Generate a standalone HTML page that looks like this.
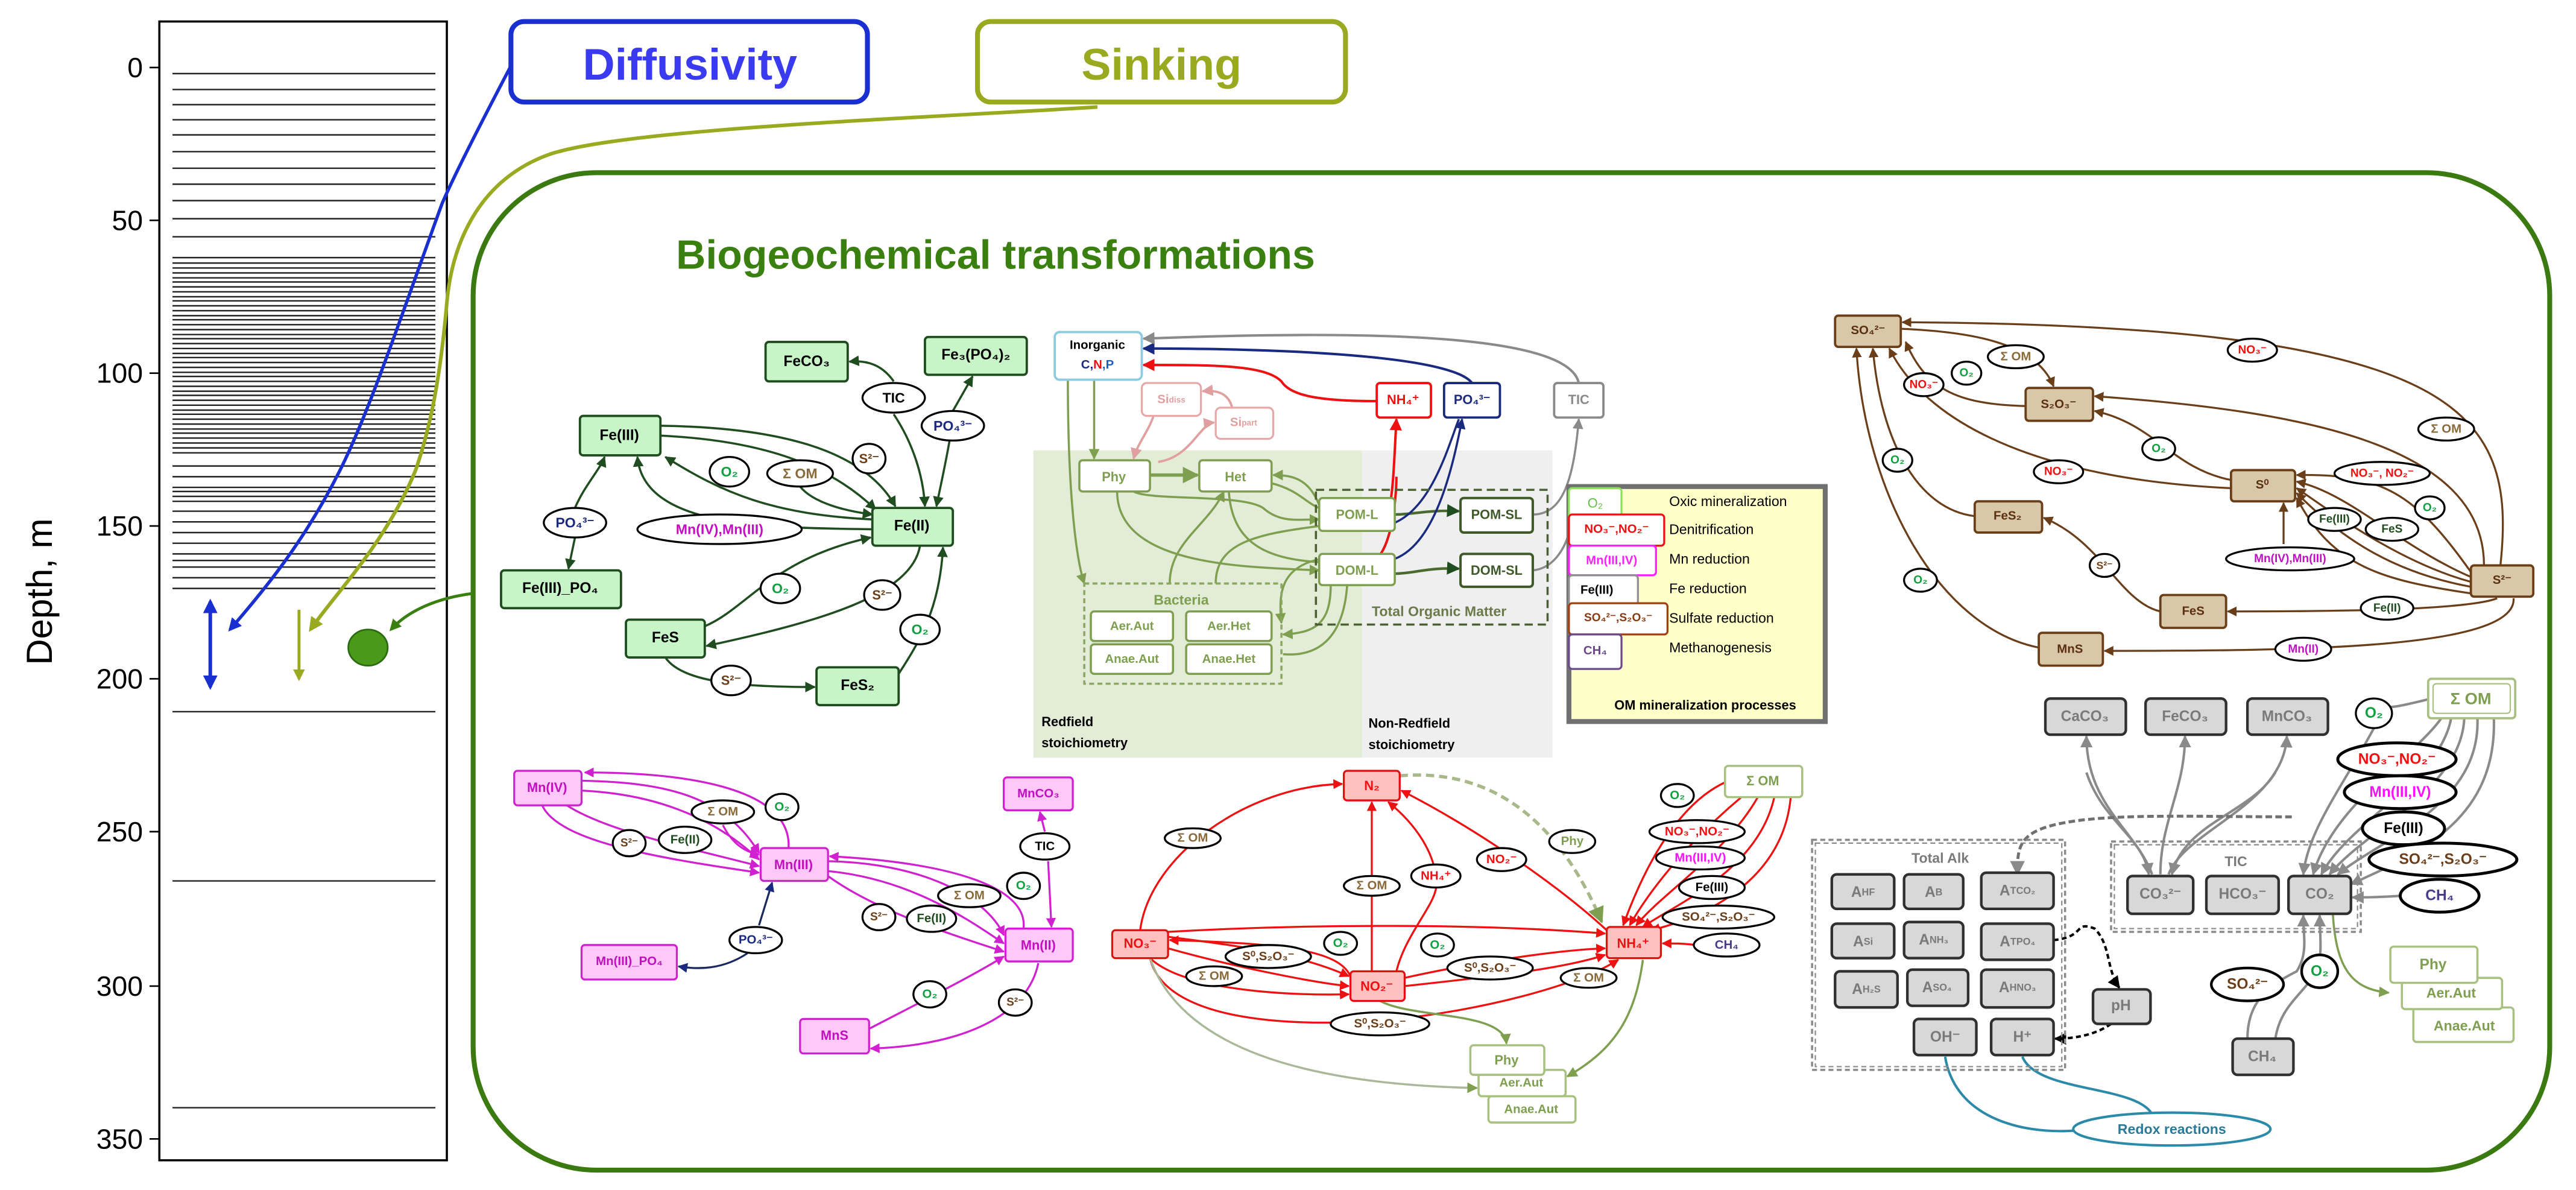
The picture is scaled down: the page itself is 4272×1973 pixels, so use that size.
<!DOCTYPE html>
<html><head><meta charset="utf-8"><style>
html,body{margin:0;padding:0;background:#fff}
svg{display:block}
text{font-family:"Liberation Sans",sans-serif;font-weight:bold;text-anchor:middle;dominant-baseline:central}
.e{fill:#fff;stroke:#000;stroke-width:1.2}
.fe{fill:#c8f5c8;stroke:#1f4d1f;stroke-width:1.4}
.mn{fill:#ffc8f8;stroke:#d020d0;stroke-width:1.2}
.n{fill:#ffc0c0;stroke:#e01010;stroke-width:1.2}
.s{fill:#d8c8a8;stroke:#6b3e1a;stroke-width:1.4}
.g{fill:#d8d8d8;stroke:#303030;stroke-width:1.6}
.om{fill:#fff;stroke:#7f9f50;stroke-width:1.3}
.lfe path,.lfe{fill:none;stroke:#1f4d1f;stroke-width:1.3}
.lmn path{fill:none;stroke:#d020d0;stroke-width:1.2}
.lre path{fill:none;stroke:#ee1111;stroke-width:1.2}
.lol path{fill:none;stroke:#7f9f50;stroke-width:1.3}
.lbr path{fill:none;stroke:#6b3e1a;stroke-width:1.2}
.lgr path{fill:none;stroke:#8a8a8a;stroke-width:1.5}
</style></head><body>
<svg width="4272" height="1973" viewBox="0 0 1568 724" xmlns="http://www.w3.org/2000/svg">
<defs>
<marker id="afe" viewBox="0 0 10 10" refX="9" refY="5" markerWidth="5" markerHeight="5" orient="auto"><path d="M0,0L10,5L0,10z" fill="#1f4d1f"/></marker>
<marker id="amn" viewBox="0 0 10 10" refX="9" refY="5" markerWidth="5" markerHeight="5" orient="auto"><path d="M0,0L10,5L0,10z" fill="#d020d0"/></marker>
<marker id="are" viewBox="0 0 10 10" refX="9" refY="5" markerWidth="5" markerHeight="5" orient="auto"><path d="M0,0L10,5L0,10z" fill="#ee1111"/></marker>
<marker id="aol" viewBox="0 0 10 10" refX="9" refY="5" markerWidth="5" markerHeight="5" orient="auto"><path d="M0,0L10,5L0,10z" fill="#7f9f50"/></marker>
<marker id="abr" viewBox="0 0 10 10" refX="9" refY="5" markerWidth="5" markerHeight="5" orient="auto"><path d="M0,0L10,5L0,10z" fill="#6b3e1a"/></marker>
<marker id="agr" viewBox="0 0 10 10" refX="9" refY="5" markerWidth="5" markerHeight="5" orient="auto"><path d="M0,0L10,5L0,10z" fill="#8a8a8a"/></marker>
<marker id="abk" viewBox="0 0 10 10" refX="9" refY="5" markerWidth="5" markerHeight="5" orient="auto"><path d="M0,0L10,5L0,10z" fill="#000"/></marker>
<marker id="anv" viewBox="0 0 10 10" refX="9" refY="5" markerWidth="5" markerHeight="5" orient="auto"><path d="M0,0L10,5L0,10z" fill="#1a2a80"/></marker>
<marker id="apk" viewBox="0 0 10 10" refX="9" refY="5" markerWidth="5" markerHeight="5" orient="auto"><path d="M0,0L10,5L0,10z" fill="#e0a0a0"/></marker>
<marker id="abl" viewBox="0 0 10 10" refX="8" refY="5" markerWidth="4" markerHeight="4" orient="auto-start-reverse"><path d="M0,0L10,5L0,10z" fill="#1a2fd0"/></marker>
<marker id="aoy" viewBox="0 0 10 10" refX="8" refY="5" markerWidth="4" markerHeight="4" orient="auto"><path d="M0,0L10,5L0,10z" fill="#9aaa20"/></marker>
<marker id="adg" viewBox="0 0 10 10" refX="8" refY="5" markerWidth="4" markerHeight="4" orient="auto"><path d="M0,0L10,5L0,10z" fill="#3a8010"/></marker>
</defs>

<!-- depth column -->
<rect x="97" y="13" width="175" height="693" fill="#fff" stroke="#000" stroke-width="1.3"/>
<g stroke="#000" stroke-width="1">
<line x1="91" y1="41" x2="97" y2="41"/><line x1="91" y1="134" x2="97" y2="134"/><line x1="91" y1="227" x2="97" y2="227"/><line x1="91" y1="320" x2="97" y2="320"/><line x1="91" y1="413" x2="97" y2="413"/><line x1="91" y1="506" x2="97" y2="506"/><line x1="91" y1="600" x2="97" y2="600"/><line x1="91" y1="693" x2="97" y2="693"/>
</g>
<g style="font-weight:normal;font-size:17px;text-anchor:end" >
<text x="87" y="41" style="font-weight:normal;text-anchor:end">0</text>
<text x="87" y="134" style="font-weight:normal;text-anchor:end">50</text>
<text x="87" y="227" style="font-weight:normal;text-anchor:end">100</text>
<text x="87" y="320" style="font-weight:normal;text-anchor:end">150</text>
<text x="87" y="413" style="font-weight:normal;text-anchor:end">200</text>
<text x="87" y="506" style="font-weight:normal;text-anchor:end">250</text>
<text x="87" y="600" style="font-weight:normal;text-anchor:end">300</text>
<text x="87" y="693" style="font-weight:normal;text-anchor:end">350</text>
</g>
<text x="24" y="360" transform="rotate(-90 24 360)" style="font-weight:normal;font-size:22px">Depth, m</text>
<g stroke="#222" stroke-width="0.9">
<path d="M105,44.7H265M105,54.4H265M105,63.6H265M105,72.8H265M105,82H265M105,92.2H265M105,102.3H265M105,112H265M105,122H265M105,133H265M105,144H265M105,156.7H265M105,160H265M105,163H265M105,166H265M105,169H265M105,171.5H265M105,174.5H265M105,177.5H265M105,180.5H265M105,183H265M105,186H265M105,189H265M105,192H265M105,194.5H265M105,197.5H265M105,200.5H265M105,203.5H265M105,206H265M105,209H265M105,212H265M105,215H265M105,217.5H265M105,220.5H265M105,223.5H265M105,226.5H265M105,229H265M105,232H265M105,235H265M105,238H265M105,240.5H265M105,243.5H265M105,246.5H265M105,249.5H265M105,252H265M105,255H265M105,258H265M105,261H265M105,263.5H265M105,266.5H265M105,269.5H265M105,272.5H265M105,275.5H265M105,283.5H265M105,290H265M105,296.5H265M105,299H265M105,302H265M105,305H265M105,311H265M105,317.5H265M105,324H265M105,330.5H265M105,337H265M105,341H265M105,345H265M105,351.5H265M105,358H265M105,433H265M105,536H265M105,674H265"/>
</g>
<!-- arrows in column -->
<line x1="128" y1="366" x2="128" y2="418" stroke="#1a2fd0" stroke-width="2.2" marker-start="url(#abl)" marker-end="url(#abl)"/>
<line x1="182" y1="371" x2="182" y2="413" stroke="#9aaa20" stroke-width="1.8" marker-end="url(#aoy)"/>
<ellipse cx="224" cy="394" rx="12" ry="11" fill="#4a9a1a" stroke="#2a6a10" stroke-width="1"/>

<!-- top boxes -->
<rect x="311" y="13" width="217" height="49" rx="8" fill="#fff" stroke="#1a2fd0" stroke-width="3"/>
<text x="420" y="39" style="font-size:27px;fill:#3a3af0">Diffusivity</text>
<rect x="595" y="13" width="224" height="49" rx="8" fill="#fff" stroke="#9aaa20" stroke-width="3"/>
<text x="707" y="39" style="font-size:27px;fill:#9aaa20">Sinking</text>
<path d="M311,40 C290,80 275,110 269,124 C245,190 225,250 207,286 C185,330 160,360 140,383" fill="none" stroke="#1a2fd0" stroke-width="2" marker-end="url(#abl)"/>
<path d="M668,65 C560,72 380,78 334,94 C290,110 275,150 272,184 C268,230 262,260 253,286 C235,330 205,360 189,383" fill="none" stroke="#9aaa20" stroke-width="2.2" marker-end="url(#aoy)"/>

<!-- main box -->
<rect x="288" y="105" width="1264" height="607" rx="75" fill="none" stroke="#3a7a10" stroke-width="3"/>
<path d="M288,361 C265,364 248,372 238,383" fill="none" stroke="#3a8010" stroke-width="1.8" marker-end="url(#adg)"/>
<text x="606" y="155" style="font-size:25px;fill:#3a8010">Biogeochemical transformations</text>

<!-- shaded areas -->
<rect x="629" y="274" width="200" height="187" fill="#e3ecd6"/>
<rect x="829" y="274" width="116" height="187" fill="#efefef"/>

<!-- ============ Fe ============ -->
<g class="lfe">
<path d="M402,259 C470,260 525,272 545,308" marker-end="url(#afe)"/>
<path d="M402,265 C465,268 505,283 533,310" marker-end="url(#afe)"/>
<path d="M531,322 C470,321 392,322 388,278" marker-end="url(#afe)"/>
<path d="M531,316 C470,313 440,300 405,278" marker-end="url(#afe)"/>
<path d="M487,296 C495,306 515,311 531,313" marker-end="url(#afe)"/>
<path d="M544,232 C537,222 528,219 517,220" marker-end="url(#afe)"/>
<path d="M544,252 C556,270 562,290 563,308" marker-end="url(#afe)"/>
<path d="M580,250 L592,229" marker-end="url(#afe)"/>
<path d="M578,268 C575,285 572,298 570,308" marker-end="url(#afe)"/>
<path d="M350,309 C356,295 365,286 368,278" marker-end="url(#afe)"/>
<path d="M350,327 L346,346" marker-end="url(#afe)"/>
<path d="M560,332 C555,362 500,378 430,393" marker-end="url(#afe)"/>
<path d="M429,381 C455,370 470,340 530,327" marker-end="url(#afe)"/>
<path d="M405,400 C415,415 450,418 496,418" marker-end="url(#afe)"/>
<path d="M547,410 C560,390 572,370 574,333" marker-end="url(#afe)"/>
</g>
<rect class="fe" x="466" y="208" width="50" height="24" rx="2"/><text x="491" y="220" style="font-size:9px">FeCO₃</text>
<rect class="fe" x="563" y="205" width="62" height="23" rx="2"/><text x="594" y="216" style="font-size:9px">Fe₃(PO₄)₂</text>
<rect class="fe" x="353" y="253" width="49" height="24" rx="2"/><text x="377" y="265" style="font-size:9px">Fe(III)</text>
<rect class="fe" x="531" y="309" width="49" height="23" rx="2"/><text x="555" y="320" style="font-size:9px">Fe(II)</text>
<rect class="fe" x="305" y="347" width="73" height="23" rx="2"/><text x="341" y="358" style="font-size:9px">Fe(III)_PO₄</text>
<rect class="fe" x="381" y="377" width="48" height="23" rx="2"/><text x="405" y="388" style="font-size:9px">FeS</text>
<rect class="fe" x="497" y="406" width="50" height="23" rx="2"/><text x="522" y="417" style="font-size:9px">FeS₂</text>
<ellipse class="e" cx="544" cy="242" rx="19" ry="9"/><text x="544" y="242" style="font-size:8.5px">TIC</text>
<ellipse class="e" cx="580" cy="259" rx="19" ry="9"/><text x="580" y="259" style="font-size:8.5px;fill:#1a2a80">PO₄³⁻</text>
<ellipse class="e" cx="444" cy="287" rx="12" ry="9"/><text x="444" y="287" style="font-size:8.5px;fill:#10a040">O₂</text>
<ellipse class="e" cx="487" cy="288" rx="20" ry="8"/><text x="487" y="288" style="font-size:8.5px;fill:#8a6a3a">Σ OM</text>
<ellipse class="e" cx="529" cy="279" rx="10" ry="9"/><text x="529" y="279" style="font-size:8px;fill:#6b3e1a">S²⁻</text>
<ellipse class="e" cx="350" cy="318" rx="19" ry="9"/><text x="350" y="318" style="font-size:8.5px;fill:#1a2a80">PO₄³⁻</text>
<ellipse class="e" cx="438" cy="322" rx="50" ry="9"/><text x="438" y="322" style="font-size:8.5px;fill:#c010c0">Mn(IV),Mn(III)</text>
<ellipse class="e" cx="475" cy="358" rx="12" ry="9"/><text x="475" y="358" style="font-size:8.5px;fill:#10a040">O₂</text>
<ellipse class="e" cx="537" cy="362" rx="11" ry="9"/><text x="537" y="362" style="font-size:8px;fill:#6b3e1a">S²⁻</text>
<ellipse class="e" cx="560" cy="383" rx="12" ry="9"/><text x="560" y="383" style="font-size:8.5px;fill:#10a040">O₂</text>
<ellipse class="e" cx="445" cy="414" rx="12" ry="9"/><text x="445" y="414" style="font-size:8px;fill:#6b3e1a">S²⁻</text>

<!-- ============ Mn ============ -->
<g class="lmn">
<path d="M354,475 C400,476 440,482 462,519" marker-end="url(#amn)"/>
<path d="M354,481 C395,483 432,495 462,523" marker-end="url(#amn)"/>
<path d="M330,490 C340,512 400,522 462,531" marker-end="url(#amn)"/>
<path d="M345,490 C370,506 420,516 462,527" marker-end="url(#amn)"/>
<path d="M480,516 C482,480 420,470 356,470" marker-end="url(#amn)"/>
<path d="M440,502 C445,512 452,518 462,520" marker-end="url(#amn)"/>
<path d="M504,524 C560,525 600,545 611,569" marker-end="url(#amn)"/>
<path d="M504,530 C555,535 590,560 611,574" marker-end="url(#amn)"/>
<path d="M504,533 C530,552 570,566 611,579" marker-end="url(#amn)"/>
<path d="M623,565 C626,540 580,525 505,521" marker-end="url(#amn)"/>
<path d="M636,506 L633,494" marker-end="url(#amn)"/>
<path d="M638,524 L640,564" marker-end="url(#amn)"/>
<path d="M529,626 C550,615 590,595 611,582" marker-end="url(#amn)"/>
<path d="M632,586 C626,616 590,636 530,638" marker-end="url(#amn)"/>
</g>
<path d="M462,563 L470,537" stroke="#1a2a60" stroke-width="1.2" fill="none" marker-end="url(#anv)"/>
<path d="M455,580 C440,590 425,590 413,588" stroke="#1a2a60" stroke-width="1.2" fill="none" marker-end="url(#anv)"/>
<rect class="mn" x="313" y="469" width="41" height="21" rx="2"/><text x="333" y="479" style="font-size:8px;fill:#c010c0">Mn(IV)</text>
<rect class="mn" x="463" y="516" width="41" height="20" rx="2"/><text x="483" y="526" style="font-size:8px;fill:#c010c0">Mn(III)</text>
<rect class="mn" x="611" y="473" width="42" height="20" rx="2"/><text x="632" y="483" style="font-size:7.5px;fill:#c010c0">MnCO₃</text>
<rect class="mn" x="612" y="565" width="41" height="20" rx="2"/><text x="632" y="575" style="font-size:8px;fill:#c010c0">Mn(II)</text>
<rect class="mn" x="354" y="575" width="58" height="21" rx="2"/><text x="383" y="585" style="font-size:7.5px;fill:#c010c0">Mn(III)_PO₄</text>
<rect class="mn" x="487" y="620" width="42" height="21" rx="2"/><text x="508" y="630" style="font-size:8px;fill:#c010c0">MnS</text>
<ellipse class="e" cx="440" cy="494" rx="19" ry="7"/><text x="440" y="494" style="font-size:7.5px;fill:#8a6a3a">Σ OM</text>
<ellipse class="e" cx="476" cy="491" rx="10" ry="8"/><text x="476" y="491" style="font-size:7.5px;fill:#10a040">O₂</text>
<ellipse class="e" cx="383" cy="513" rx="10" ry="8"/><text x="383" y="513" style="font-size:7px;fill:#6b3e1a">S²⁻</text>
<ellipse class="e" cx="417" cy="511" rx="16" ry="8"/><text x="417" y="511" style="font-size:7.5px;fill:#1f4d1f">Fe(II)</text>
<ellipse class="e" cx="636" cy="515" rx="15" ry="8"/><text x="636" y="515" style="font-size:7.5px">TIC</text>
<ellipse class="e" cx="623" cy="539" rx="10" ry="8"/><text x="623" y="539" style="font-size:7.5px;fill:#10a040">O₂</text>
<ellipse class="e" cx="590" cy="545" rx="19" ry="7"/><text x="590" y="545" style="font-size:7.5px;fill:#8a6a3a">Σ OM</text>
<ellipse class="e" cx="535" cy="558" rx="10" ry="8"/><text x="535" y="558" style="font-size:7px;fill:#6b3e1a">S²⁻</text>
<ellipse class="e" cx="567" cy="559" rx="15" ry="8"/><text x="567" y="559" style="font-size:7.5px;fill:#1f4d1f">Fe(II)</text>
<ellipse class="e" cx="460" cy="572" rx="16" ry="8"/><text x="460" y="572" style="font-size:7.5px;fill:#1a2a80">PO₄³⁻</text>
<ellipse class="e" cx="566" cy="605" rx="10" ry="8"/><text x="566" y="605" style="font-size:7.5px;fill:#10a040">O₂</text>
<ellipse class="e" cx="618" cy="610" rx="10" ry="8"/><text x="618" y="610" style="font-size:7px;fill:#6b3e1a">S²⁻</text>

<!-- ============ Redfield / OM ============ -->
<g class="lol">
<path d="M666,231 L666,279" marker-end="url(#aol)"/>
<path d="M700,289 L729,289" marker-end="url(#aol)" style="stroke-width:2"/>
<path d="M804,310 C798,292 788,289 775,289" marker-end="url(#aol)"/>
<path d="M650,231 C650,300 655,340 660,355" marker-end="url(#aol)"/>
<path d="M690,299 C700,305 760,300 770,310 C780,318 790,316 803,316" marker-end="url(#aol)"/>
<path d="M680,299 C680,345 760,345 803,347" marker-end="url(#aol)"/>
<path d="M774,294 C790,298 795,306 803,309"/>
<path d="M712,355 C712,330 735,320 745,299" marker-end="url(#aol)"/>
<path d="M740,355 C740,330 765,325 803,320"/>
<path d="M748,299 C750,330 770,340 803,342"/>
<path d="M804,340 C780,345 778,360 780,379" marker-end="url(#aol)"/>
<path d="M810,356 C810,380 800,385 781,386" marker-end="url(#aol)"/>
<path d="M820,356 C818,385 805,400 781,398"/>
</g>
<path d="M849,313 C860,313 870,310 888,311" stroke="#4a6a30" stroke-width="1.6" fill="none" marker-end="url(#afe)"/>
<path d="M849,349 C860,349 870,345 888,346" stroke="#4a6a30" stroke-width="1.6" fill="none" marker-end="url(#afe)"/>
<path d="M705,281 C725,278 730,258 739,257" stroke="#e0a0a0" stroke-width="1.4" fill="none" marker-end="url(#apk)"/>
<path d="M703,250 C700,262 693,268 690,279" stroke="#e0a0a0" stroke-width="1.4" fill="none" marker-end="url(#apk)"/>
<path d="M750,248 C748,240 742,237 732,238" stroke="#e0a0a0" stroke-width="1.4" fill="none" marker-end="url(#apk)"/>
<path d="M838,323 C848,320 848,290 850,255" stroke="#ee1111" stroke-width="1.5" fill="none" marker-end="url(#are)"/>
<path d="M838,340 C848,330 850,300 850,290" stroke="#ee1111" stroke-width="1.5" fill="none"/>
<path d="M838,244 C800,244 785,240 780,232 C770,222 740,222 696,222" stroke="#ee1111" stroke-width="1.5" fill="none" marker-end="url(#are)"/>
<path d="M896,233 C885,218 800,212 696,212" stroke="#1a2a80" stroke-width="1.5" fill="none" marker-end="url(#anv)"/>
<path d="M849,340 C875,330 885,280 890,255" stroke="#1a2a80" stroke-width="1.3" fill="none" marker-end="url(#anv)"/>
<path d="M849,318 C872,308 882,270 888,255" stroke="#1a2a80" stroke-width="1.3" fill="none"/>
<path d="M961,233 C955,205 850,200 696,206" stroke="#8a8a8a" stroke-width="1.5" fill="none" marker-end="url(#agr)"/>
<path d="M933,313 C952,313 958,290 961,255" stroke="#8a8a8a" stroke-width="1.3" fill="none" marker-end="url(#agr)"/>
<path d="M933,347 C955,345 960,310 958,298" stroke="#8a8a8a" stroke-width="1.3" fill="none"/>

<rect x="642" y="202" width="53" height="29" rx="3" fill="#fff" stroke="#8ccbe0" stroke-width="1.4"/>
<text x="668" y="210" style="font-size:7.5px">Inorganic</text>
<text x="668" y="222" style="font-size:7.5px"><tspan fill="#1a2a80">C,</tspan><tspan fill="#ee1111">N</tspan><tspan fill="#2060c0">,P</tspan></text>
<rect x="695" y="233" width="36" height="20" rx="3" fill="#fff" stroke="#e8a8a8" stroke-width="1.2"/><text x="713" y="243" style="font-size:7.5px;fill:#e0a0a0">Si<tspan font-size="5">diss</tspan></text>
<rect x="740" y="248" width="35" height="19" rx="3" fill="#fff" stroke="#e8a8a8" stroke-width="1.2"/><text x="757" y="257" style="font-size:7.5px;fill:#e0a0a0">Si<tspan font-size="5">part</tspan></text>
<rect class="om" x="657" y="280" width="43" height="19" rx="2"/><text x="678" y="290" style="font-size:8px;fill:#7f9f50">Phy</text>
<rect class="om" x="730" y="280" width="44" height="19" rx="2"/><text x="752" y="290" style="font-size:8px;fill:#7f9f50">Het</text>
<rect x="801" y="298" width="141" height="82" fill="none" stroke="#4a6030" stroke-width="1.3" stroke-dasharray="5,3"/>
<rect class="om" x="803" y="303" width="46" height="20" rx="2"/><text x="826" y="313" style="font-size:8px;fill:#7f9f50">POM-L</text>
<rect class="om" x="803" y="337" width="46" height="19" rx="2"/><text x="826" y="347" style="font-size:8px;fill:#7f9f50">DOM-L</text>
<rect x="889" y="303" width="44" height="21" rx="2" fill="#fff" stroke="#3f5a28" stroke-width="1.5"/><text x="911" y="313" style="font-size:8px;fill:#3f5a28">POM-SL</text>
<rect x="889" y="337" width="44" height="20" rx="2" fill="#fff" stroke="#3f5a28" stroke-width="1.5"/><text x="911" y="347" style="font-size:8px;fill:#3f5a28">DOM-SL</text>
<text x="876" y="372" style="font-size:8.5px;fill:#6a7a4a">Total Organic Matter</text>
<rect x="660" y="355" width="120" height="61" fill="none" stroke="#8aa860" stroke-width="1.3" stroke-dasharray="3,2"/>
<text x="719" y="365" style="font-size:8.5px;fill:#7f9f50">Bacteria</text>
<rect class="om" x="664" y="372" width="50" height="18" rx="2"/><text x="689" y="381" style="font-size:7.5px;fill:#7f9f50">Aer.Aut</text>
<rect class="om" x="722" y="372" width="52" height="18" rx="2"/><text x="748" y="381" style="font-size:7.5px;fill:#7f9f50">Aer.Het</text>
<rect class="om" x="664" y="392" width="50" height="18" rx="2"/><text x="689" y="401" style="font-size:7.5px;fill:#7f9f50">Anae.Aut</text>
<rect class="om" x="722" y="392" width="52" height="18" rx="2"/><text x="748" y="401" style="font-size:7.5px;fill:#7f9f50">Anae.Het</text>
<rect x="838" y="233" width="33" height="21" rx="2" fill="#fff" stroke="#ee1111" stroke-width="1.4"/><text x="854" y="243" style="font-size:8px;fill:#ee1111">NH₄⁺</text>
<rect x="879" y="233" width="34" height="21" rx="2" fill="#fff" stroke="#1a2a80" stroke-width="1.4"/><text x="896" y="243" style="font-size:8px;fill:#1a2a80">PO₄³⁻</text>
<rect x="946" y="233" width="30" height="21" rx="2" fill="#fff" stroke="#8a8a8a" stroke-width="1.4"/><text x="961" y="243" style="font-size:8px;fill:#8a8a8a">TIC</text>
<text x="634" y="439" style="font-size:8px;text-anchor:start">Redfield</text>
<text x="634" y="452" style="font-size:8px;text-anchor:start">stoichiometry</text>
<text x="833" y="440" style="font-size:8px;text-anchor:start">Non-Redfield</text>
<text x="833" y="453" style="font-size:8px;text-anchor:start">stoichiometry</text>

<!-- legend -->
<rect x="955" y="296" width="156" height="143" fill="#ffffc8" stroke="#707070" stroke-width="3"/>
<rect x="955" y="297" width="32" height="19" rx="2" fill="#fff" stroke="#90e060" stroke-width="1.2"/><text x="971" y="306" style="font-size:8px;fill:#60c040;font-weight:normal">O₂</text>
<rect x="955" y="313" width="58" height="19" rx="2" fill="#fff" stroke="#ee1111" stroke-width="1.2"/><text x="984" y="322" style="font-size:7.5px;fill:#ee1111">NO₃⁻,NO₂⁻</text>
<rect x="955" y="332" width="53" height="18" rx="2" fill="#fff" stroke="#ff20ff" stroke-width="1.2"/><text x="981" y="341" style="font-size:7.5px;fill:#ff20ff">Mn(III,IV)</text>
<rect x="955" y="350" width="42" height="19" rx="2" fill="#fff" stroke="#909090" stroke-width="1.2"/><text x="972" y="359" style="font-size:7.5px">Fe(III)</text>
<rect x="955" y="367" width="60" height="19" rx="2" fill="#fff" stroke="#a04010" stroke-width="1.2"/><text x="985" y="376" style="font-size:7px;fill:#8a3a10">SO₄²⁻,S₂O₃⁻</text>
<rect x="955" y="386" width="32" height="21" rx="2" fill="#fff" stroke="#6a4a8a" stroke-width="1.2"/><text x="971" y="396" style="font-size:7.5px;fill:#6a4a8a">CH₄</text>
<g style="font-size:8.5px">
<text x="1016" y="305" style="font-weight:normal;text-anchor:start">Oxic mineralization</text>
<text x="1016" y="322" style="font-weight:normal;text-anchor:start">Denitrification</text>
<text x="1016" y="340" style="font-weight:normal;text-anchor:start">Mn reduction</text>
<text x="1016" y="358" style="font-weight:normal;text-anchor:start">Fe reduction</text>
<text x="1016" y="376" style="font-weight:normal;text-anchor:start">Sulfate reduction</text>
<text x="1016" y="394" style="font-weight:normal;text-anchor:start">Methanogenesis</text>
</g>
<text x="1038" y="429" style="font-size:8px">OM mineralization processes</text>

<!-- ============ Sulfur ============ -->
<g class="lbr">
<path d="M1522,344 C1532,250 1500,198 1158,196" marker-end="url(#abr)"/>
<path d="M1233,247 C1190,246 1172,236 1160,208" marker-end="url(#abr)"/>
<path d="M1157,200 C1205,202 1240,210 1250,235" marker-end="url(#abr)"/>
<path d="M1512,344 C1512,270 1400,250 1275,241" marker-end="url(#abr)"/>
<path d="M1358,292 C1322,285 1312,258 1275,250" marker-end="url(#abr)"/>
<path d="M1358,297 C1250,292 1175,262 1150,212" marker-end="url(#abr)"/>
<path d="M1202,314 C1168,310 1145,270 1140,212" marker-end="url(#abr)"/>
<path d="M1241,394 C1180,382 1135,300 1130,212" marker-end="url(#abr)"/>
<path d="M1504,348 C1470,300 1450,288 1398,289" marker-end="url(#abr)"/>
<path d="M1504,351 C1460,332 1430,300 1398,293" marker-end="url(#abr)"/>
<path d="M1504,354 C1460,342 1420,312 1398,297" marker-end="url(#abr)"/>
<path d="M1504,357 C1450,347 1420,322 1398,300" marker-end="url(#abr)"/>
<path d="M1504,361 C1450,353 1420,345 1398,303" marker-end="url(#abr)"/>
<path d="M1390,331 L1390,306" marker-end="url(#abr)"/>
<path d="M1520,364 C1500,372 1400,372 1356,372" marker-end="url(#abr)"/>
<path d="M1530,364 C1532,395 1400,396 1281,396" marker-end="url(#abr)"/>
<path d="M1315,372 C1290,366 1280,330 1244,315" marker-end="url(#abr)"/>
</g>
<rect class="s" x="1117" y="192" width="40" height="19" rx="2"/><text x="1137" y="201" style="font-size:7.5px;fill:#5a3010">SO₄²⁻</text>
<rect class="s" x="1233" y="236" width="41" height="20" rx="2"/><text x="1253" y="246" style="font-size:7.5px;fill:#5a3010">S₂O₃⁻</text>
<rect class="s" x="1358" y="286" width="39" height="19" rx="2"/><text x="1377" y="295" style="font-size:7.5px;fill:#5a3010">S⁰</text>
<rect class="s" x="1202" y="305" width="41" height="19" rx="2"/><text x="1222" y="314" style="font-size:7.5px;fill:#5a3010">FeS₂</text>
<rect class="s" x="1504" y="344" width="38" height="19" rx="2"/><text x="1523" y="353" style="font-size:7.5px;fill:#5a3010">S²⁻</text>
<rect class="s" x="1315" y="362" width="40" height="20" rx="2"/><text x="1335" y="372" style="font-size:7.5px;fill:#5a3010">FeS</text>
<rect class="s" x="1241" y="385" width="39" height="20" rx="2"/><text x="1260" y="395" style="font-size:7.5px;fill:#5a3010">MnS</text>
<ellipse class="e" cx="1227" cy="217" rx="17" ry="7"/><text x="1227" y="217" style="font-size:7.5px;fill:#8a6a3a">Σ OM</text>
<ellipse class="e" cx="1371" cy="213" rx="15" ry="7"/><text x="1371" y="213" style="font-size:7px;fill:#ee1111">NO₃⁻</text>
<ellipse class="e" cx="1171" cy="234" rx="12" ry="7"/><text x="1171" y="234" style="font-size:7px;fill:#ee1111">NO₃⁻</text>
<ellipse class="e" cx="1197" cy="227" rx="9" ry="7"/><text x="1197" y="227" style="font-size:7px;fill:#10a040">O₂</text>
<ellipse class="e" cx="1489" cy="261" rx="17" ry="7"/><text x="1489" y="261" style="font-size:7.5px;fill:#8a6a3a">Σ OM</text>
<ellipse class="e" cx="1314" cy="273" rx="10" ry="7"/><text x="1314" y="273" style="font-size:7px;fill:#10a040">O₂</text>
<ellipse class="e" cx="1155" cy="280" rx="9" ry="7"/><text x="1155" y="280" style="font-size:7px;fill:#10a040">O₂</text>
<ellipse class="e" cx="1253" cy="287" rx="15" ry="7"/><text x="1253" y="287" style="font-size:7px;fill:#ee1111">NO₃⁻</text>
<ellipse class="e" cx="1450" cy="288" rx="29" ry="7"/><text x="1450" y="288" style="font-size:7px;fill:#ee1111">NO₃⁻, NO₂⁻</text>
<ellipse class="e" cx="1421" cy="316" rx="16" ry="7"/><text x="1421" y="316" style="font-size:7px;fill:#1f4d1f">Fe(III)</text>
<ellipse class="e" cx="1456" cy="322" rx="16" ry="7"/><text x="1456" y="322" style="font-size:7px;fill:#1f4d1f">FeS</text>
<ellipse class="e" cx="1479" cy="309" rx="9" ry="7"/><text x="1479" y="309" style="font-size:7px;fill:#10a040">O₂</text>
<ellipse class="e" cx="1394" cy="340" rx="39" ry="7"/><text x="1394" y="340" style="font-size:7px;fill:#c010c0">Mn(IV),Mn(III)</text>
<ellipse class="e" cx="1281" cy="344" rx="9" ry="7"/><text x="1281" y="344" style="font-size:6.5px;fill:#6b3e1a">S²⁻</text>
<ellipse class="e" cx="1169" cy="353" rx="10" ry="7"/><text x="1169" y="353" style="font-size:7px;fill:#10a040">O₂</text>
<ellipse class="e" cx="1453" cy="370" rx="16" ry="7"/><text x="1453" y="370" style="font-size:7px;fill:#1f4d1f">Fe(II)</text>
<ellipse class="e" cx="1402" cy="395" rx="17" ry="7"/><text x="1402" y="395" style="font-size:7px;fill:#c010c0">Mn(II)</text>

<!-- ============ Alkalinity ============ -->
<g class="lgr">
<path d="M1310,532 C1300,505 1270,490 1270,448" marker-end="url(#agr)"/>
<path d="M1270,470 C1280,500 1305,510 1308,532" marker-end="url(#agr)"/>
<path d="M1315,532 C1315,500 1330,480 1330,448" marker-end="url(#agr)"/>
<path d="M1320,532 C1330,505 1390,490 1392,448" marker-end="url(#agr)"/>
<path d="M1385,470 C1370,495 1330,500 1322,532" marker-end="url(#agr)"/>
<path d="M1445,443 C1425,480 1405,505 1402,532" marker-end="url(#agr)"/>
<path d="M1480,425 C1460,430 1450,432 1454,428"/>
<path d="M1486,437 C1470,460 1420,490 1408,532" marker-end="url(#agr)"/>
<path d="M1492,437 C1485,475 1430,500 1413,532" marker-end="url(#agr)"/>
<path d="M1500,437 C1498,480 1440,505 1418,532" marker-end="url(#agr)"/>
<path d="M1508,437 C1510,490 1450,510 1423,532" marker-end="url(#agr)"/>
<path d="M1518,437 C1520,500 1470,520 1431,538" marker-end="url(#agr)"/>
<path d="M1462,545 C1450,546 1440,546 1432,546" marker-end="url(#agr)"/>
<path d="M1368,632 C1368,610 1380,600 1398,591 C1405,580 1402,570 1402,557" marker-end="url(#agr)"/>
<path d="M1385,632 C1388,612 1402,605 1410,591 C1414,580 1412,570 1412,557" marker-end="url(#agr)"/>
</g>
<path d="M1420,556 C1422,590 1432,602 1454,604" stroke="#7f9f50" stroke-width="1.3" fill="none" marker-end="url(#aol)"/>
<path d="M1395,497 C1340,497 1290,495 1260,500 C1228,505 1228,515 1228,532" stroke="#707070" stroke-width="1.8" fill="none" stroke-dasharray="4,2" marker-end="url(#agr)"/>
<path d="M1250,572 C1270,570 1262,560 1275,565 C1285,575 1282,590 1290,601" stroke="#000" stroke-width="1.5" fill="none" stroke-dasharray="3,2" marker-end="url(#abk)"/>
<path d="M1285,623 C1275,630 1262,632 1251,632" stroke="#000" stroke-width="1.5" fill="none" stroke-dasharray="3,2" marker-end="url(#abk)"/>
<path d="M1184,643 C1190,680 1230,690 1262,688" stroke="#2a8aa8" stroke-width="1.5" fill="none"/>
<path d="M1231,643 C1240,665 1300,660 1310,678" stroke="#2a8aa8" stroke-width="1.5" fill="none"/>
<rect x="1103" y="511" width="154" height="140" fill="none" stroke="#8a8a8a" stroke-width="1.3" stroke-dasharray="3,2"/>
<rect x="1105" y="513" width="150" height="136" fill="none" stroke="#8a8a8a" stroke-width="0.8" stroke-dasharray="3,2"/>
<text x="1181" y="522" style="font-size:8.5px;fill:#7a7a7a">Total Alk</text>
<rect x="1285" y="512" width="152" height="55" fill="none" stroke="#8a8a8a" stroke-width="1.3" stroke-dasharray="3,2"/>
<rect x="1287" y="514" width="148" height="51" fill="none" stroke="#8a8a8a" stroke-width="0.8" stroke-dasharray="3,2"/>
<text x="1361" y="524" style="font-size:8.5px;fill:#7a7a7a">TIC</text>
<g style="font-size:9px;fill:#7a7a7a">
<rect class="g" x="1245" y="425" width="49" height="22" rx="3"/><text x="1269" y="436" style="fill:#7a7a7a">CaCO₃</text>
<rect class="g" x="1306" y="425" width="49" height="22" rx="3"/><text x="1330" y="436" style="fill:#7a7a7a">FeCO₃</text>
<rect class="g" x="1368" y="425" width="49" height="22" rx="3"/><text x="1392" y="436" style="fill:#7a7a7a">MnCO₃</text>
<rect class="g" x="1115" y="532" width="38" height="21" rx="3"/><text x="1134" y="543" style="fill:#7a7a7a">A<tspan font-size="6">HF</tspan></text>
<rect class="g" x="1159" y="532" width="36" height="21" rx="3"/><text x="1177" y="543" style="fill:#7a7a7a">A<tspan font-size="6">B</tspan></text>
<rect class="g" x="1206" y="531" width="44" height="22" rx="3"/><text x="1228" y="542" style="fill:#7a7a7a">A<tspan font-size="6">TCO₂</tspan></text>
<rect class="g" x="1115" y="562" width="38" height="21" rx="3"/><text x="1134" y="573" style="fill:#7a7a7a">A<tspan font-size="6">Si</tspan></text>
<rect class="g" x="1159" y="561" width="36" height="22" rx="3"/><text x="1177" y="572" style="fill:#7a7a7a">A<tspan font-size="6">NH₃</tspan></text>
<rect class="g" x="1206" y="562" width="44" height="22" rx="3"/><text x="1228" y="573" style="fill:#7a7a7a">A<tspan font-size="6">TPO₄</tspan></text>
<rect class="g" x="1117" y="591" width="38" height="22" rx="3"/><text x="1136" y="602" style="fill:#7a7a7a">A<tspan font-size="6">H₂S</tspan></text>
<rect class="g" x="1161" y="590" width="37" height="22" rx="3"/><text x="1179" y="601" style="fill:#7a7a7a">A<tspan font-size="6">SO₄</tspan></text>
<rect class="g" x="1206" y="590" width="44" height="23" rx="3"/><text x="1228" y="601" style="fill:#7a7a7a">A<tspan font-size="6">HNO₃</tspan></text>
<rect class="g" x="1165" y="620" width="38" height="22" rx="3"/><text x="1184" y="631" style="fill:#7a7a7a">OH⁻</text>
<rect class="g" x="1212" y="620" width="38" height="22" rx="3"/><text x="1231" y="631" style="fill:#7a7a7a">H⁺</text>
<rect class="g" x="1295" y="533" width="40" height="23" rx="3"/><text x="1315" y="544" style="fill:#7a7a7a">CO₃²⁻</text>
<rect class="g" x="1343" y="533" width="44" height="23" rx="3"/><text x="1365" y="544" style="fill:#7a7a7a">HCO₃⁻</text>
<rect class="g" x="1393" y="533" width="38" height="23" rx="3"/><text x="1412" y="544" style="fill:#7a7a7a">CO₂</text>
<rect class="g" x="1274" y="602" width="35" height="21" rx="3"/><text x="1291" y="612" style="fill:#7a7a7a">pH</text>
<rect class="g" x="1359" y="632" width="37" height="22" rx="3"/><text x="1377" y="643" style="fill:#7a7a7a">CH₄</text>
</g>
<ellipse class="e" cx="1445" cy="434" rx="11" ry="9"/><text x="1445" y="434" style="font-size:9px;fill:#10a040">O₂</text>
<rect x="1478" y="413" width="53" height="24" rx="2" fill="#fff" stroke="#a8c080" stroke-width="1.4"/><rect x="1481" y="416" width="47" height="18" rx="2" fill="none" stroke="#a8c080" stroke-width="0.8"/><text x="1504" y="425" style="font-size:10px;fill:#7f9f50">Σ OM</text>
<ellipse class="e" cx="1459" cy="462" rx="36" ry="10" style="stroke-width:1.8"/><text x="1459" y="462" style="font-size:9px;fill:#ee1111">NO₃⁻,NO₂⁻</text>
<ellipse class="e" cx="1461" cy="482" rx="34" ry="10" style="stroke-width:1.8"/><text x="1461" y="482" style="font-size:9px;fill:#ff10ff">Mn(III,IV)</text>
<ellipse class="e" cx="1463" cy="504" rx="25" ry="10" style="stroke-width:1.8"/><text x="1463" y="504" style="font-size:9px">Fe(III)</text>
<ellipse class="e" cx="1487" cy="523" rx="45" ry="10" style="stroke-width:1.8"/><text x="1487" y="523" style="font-size:9px;fill:#6b3e1a">SO₄²⁻,S₂O₃⁻</text>
<ellipse class="e" cx="1485" cy="545" rx="24" ry="10" style="stroke-width:1.8"/><text x="1485" y="545" style="font-size:9px;fill:#4a3a8a">CH₄</text>
<ellipse class="e" cx="1368" cy="599" rx="22" ry="10" style="stroke-width:1.6"/><text x="1368" y="599" style="font-size:9px;fill:#6b3e1a">SO₄²⁻</text>
<ellipse class="e" cx="1412" cy="591" rx="11" ry="10" style="stroke-width:1.6"/><text x="1412" y="591" style="font-size:9px;fill:#10a040">O₂</text>
<rect class="om" x="1469" y="613" width="61" height="21" rx="2" style="stroke:#a8c080"/><text x="1500" y="624" style="font-size:8.5px;fill:#7f9f50">Anae.Aut</text>
<rect class="om" x="1462" y="595" width="61" height="19" rx="2" style="stroke:#a8c080"/><text x="1492" y="604" style="font-size:8.5px;fill:#7f9f50">Aer.Aut</text>
<rect class="om" x="1455" y="576" width="53" height="22" rx="2" style="stroke:#a8c080"/><text x="1481" y="587" style="font-size:9px;fill:#7f9f50">Phy</text>
<ellipse cx="1322" cy="687" rx="60" ry="10" fill="#fff" stroke="#2a8aa8" stroke-width="1.5"/><text x="1322" y="687" style="font-size:8.5px;fill:#2a7a98">Redox reactions</text>

<!-- ============ Nitrogen ============ -->
<g class="lre">
<path d="M694,566 C700,520 760,478 817,477" marker-end="url(#are)"/>
<path d="M835,591 L835,488" marker-end="url(#are)"/>
<path d="M850,591 C855,570 872,552 874,541 C876,520 860,500 845,488" marker-end="url(#are)"/>
<path d="M978,566 C950,540 900,505 853,481" marker-end="url(#are)"/>
<path d="M711,570 C750,575 790,580 821,594" marker-end="url(#are)"/>
<path d="M711,577 C750,588 800,598 821,600" marker-end="url(#are)"/>
<path d="M700,583 C720,602 780,606 821,605" marker-end="url(#are)"/>
<path d="M855,595 C900,585 950,578 977,577" marker-end="url(#are)"/>
<path d="M855,600 C900,595 950,590 977,581" marker-end="url(#are)"/>
<path d="M711,567 C800,562 900,562 977,568" marker-end="url(#are)"/>
<path d="M822,594 C815,578 780,574 712,572" marker-end="url(#are)"/>
<path d="M700,583 C710,625 800,625 850,620 C900,615 960,600 985,584" marker-end="url(#are)"/>
<path d="M1050,476 C1020,490 1000,530 988,563" marker-end="url(#are)"/>
<path d="M1060,485 C1030,510 1005,540 992,563" marker-end="url(#are)"/>
<path d="M1070,485 C1050,520 1010,545 996,563" marker-end="url(#are)"/>
<path d="M1080,485 C1070,530 1020,550 1000,564" marker-end="url(#are)"/>
<path d="M1090,485 C1085,540 1030,560 1005,566" marker-end="url(#are)"/>
<path d="M1032,575 C1025,574 1018,574 1012,574" marker-end="url(#are)"/>
</g>
<path d="M852,472 C900,468 945,490 975,561" stroke="#a8b888" stroke-width="2" fill="none" stroke-dasharray="5,3" marker-end="url(#aol)"/>
<g class="lol">
<path d="M1000,584 C995,622 980,640 954,655" marker-end="url(#aol)"/>
<path d="M840,609 C860,620 915,615 917,635" marker-end="url(#aol)"/>
<path d="M700,583 C720,640 800,660 899,662" marker-end="url(#aol)" style="stroke:#a8b898"/>
</g>
<rect class="n" x="818" y="469" width="34" height="18" rx="2"/><text x="835" y="478" style="font-size:8px;fill:#ee1111">N₂</text>
<rect class="n" x="677" y="566" width="34" height="17" rx="2"/><text x="694" y="574" style="font-size:8px;fill:#ee1111">NO₃⁻</text>
<rect class="n" x="822" y="591" width="33" height="18" rx="2"/><text x="838" y="600" style="font-size:8px;fill:#ee1111">NO₂⁻</text>
<rect class="n" x="978" y="564" width="33" height="19" rx="2"/><text x="994" y="574" style="font-size:8px;fill:#ee1111">NH₄⁺</text>
<ellipse class="e" cx="726" cy="510" rx="17" ry="6"/><text x="726" y="510" style="font-size:7.5px;fill:#8a6a3a">Σ OM</text>
<ellipse class="e" cx="835" cy="539" rx="17" ry="6"/><text x="835" y="539" style="font-size:7.5px;fill:#8a6a3a">Σ OM</text>
<ellipse class="e" cx="874" cy="533" rx="15" ry="7"/><text x="874" y="533" style="font-size:7.5px;fill:#ee1111">NH₄⁺</text>
<ellipse class="e" cx="914" cy="523" rx="15" ry="7"/><text x="914" y="523" style="font-size:7.5px;fill:#ee1111">NO₂⁻</text>
<ellipse class="e" cx="957" cy="512" rx="14" ry="7"/><text x="957" y="512" style="font-size:7.5px;fill:#7f9f50">Phy</text>
<ellipse class="e" cx="1021" cy="484" rx="10" ry="7"/><text x="1021" y="484" style="font-size:7.5px;fill:#10a040">O₂</text>
<rect x="1050" y="466" width="47" height="19" rx="2" fill="#fff" stroke="#a8c080" stroke-width="1.3"/><text x="1073" y="475" style="font-size:8px;fill:#7f9f50">Σ OM</text>
<ellipse class="e" cx="1033" cy="506" rx="29" ry="7"/><text x="1033" y="506" style="font-size:7.5px;fill:#ee1111">NO₃⁻,NO₂⁻</text>
<ellipse class="e" cx="1035" cy="522" rx="27" ry="7"/><text x="1035" y="522" style="font-size:7.5px;fill:#ff10ff">Mn(III,IV)</text>
<ellipse class="e" cx="1042" cy="540" rx="20" ry="7"/><text x="1042" y="540" style="font-size:7.5px">Fe(III)</text>
<ellipse class="e" cx="1046" cy="558" rx="34" ry="7"/><text x="1046" y="558" style="font-size:7.5px;fill:#6b3e1a">SO₄²⁻,S₂O₃⁻</text>
<ellipse class="e" cx="1051" cy="575" rx="20" ry="7"/><text x="1051" y="575" style="font-size:7.5px;fill:#4a3a8a">CH₄</text>
<ellipse class="e" cx="816" cy="574" rx="10" ry="7"/><text x="816" y="574" style="font-size:7.5px;fill:#10a040">O₂</text>
<ellipse class="e" cx="772" cy="582" rx="26" ry="7"/><text x="772" y="582" style="font-size:7.5px;fill:#6b3e1a">S⁰,S₂O₃⁻</text>
<ellipse class="e" cx="739" cy="594" rx="17" ry="6"/><text x="739" y="594" style="font-size:7.5px;fill:#8a6a3a">Σ OM</text>
<ellipse class="e" cx="875" cy="575" rx="10" ry="7"/><text x="875" y="575" style="font-size:7.5px;fill:#10a040">O₂</text>
<ellipse class="e" cx="907" cy="589" rx="26" ry="7"/><text x="907" y="589" style="font-size:7.5px;fill:#6b3e1a">S⁰,S₂O₃⁻</text>
<ellipse class="e" cx="967" cy="595" rx="17" ry="6"/><text x="967" y="595" style="font-size:7.5px;fill:#8a6a3a">Σ OM</text>
<ellipse class="e" cx="840" cy="623" rx="30" ry="7"/><text x="840" y="623" style="font-size:7.5px;fill:#6b3e1a">S⁰,S₂O₃⁻</text>
<rect class="om" x="906" y="667" width="53" height="16" rx="2" style="stroke:#a8c080"/><text x="932" y="675" style="font-size:7.5px;fill:#7f9f50">Anae.Aut</text>
<rect class="om" x="900" y="651" width="53" height="16" rx="2" style="stroke:#a8c080"/><text x="926" y="659" style="font-size:7.5px;fill:#7f9f50">Aer.Aut</text>
<rect class="om" x="895" y="636" width="45" height="18" rx="2" style="stroke:#a8c080"/><text x="917" y="645" style="font-size:8px;fill:#7f9f50">Phy</text>
</svg>
</body></html>
